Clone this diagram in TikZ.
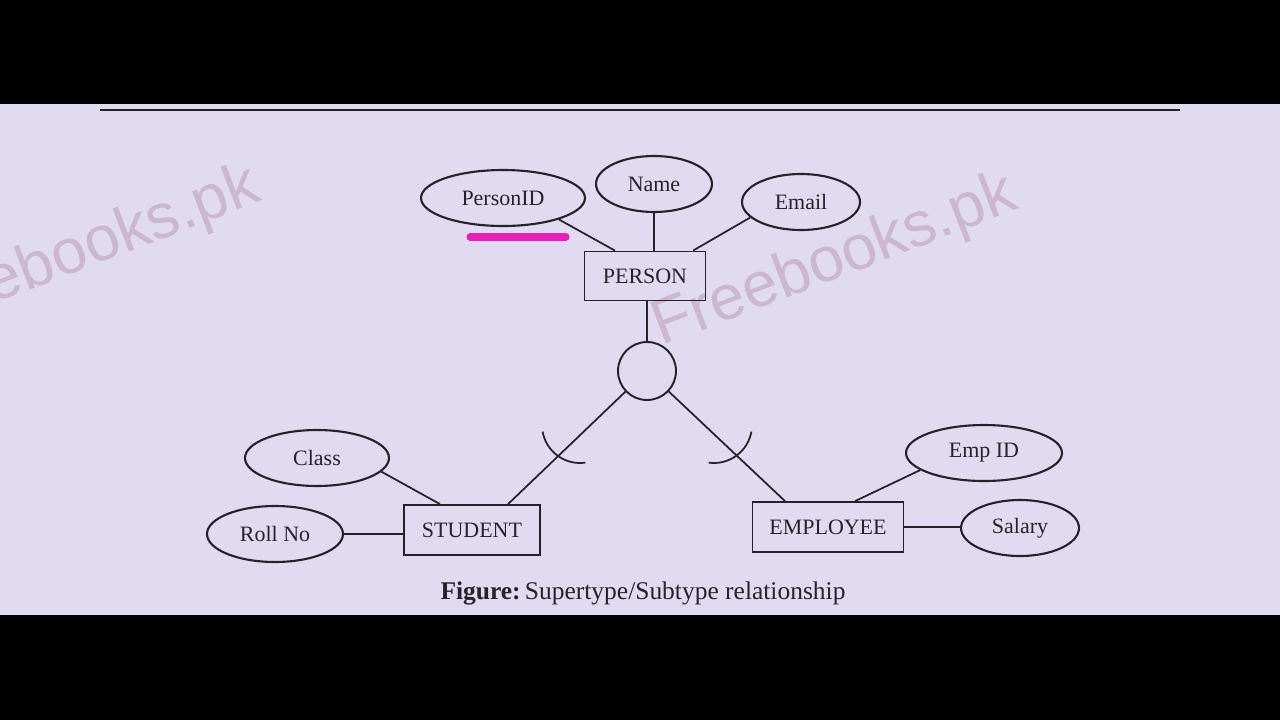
\documentclass[tikz,border=0pt]{standalone}
\usepackage{fontspec}
\setmainfont{Liberation Serif}
\newfontfamily\markfont{Liberation Sans}
\usetikzlibrary{shapes.geometric}
\definecolor{paper}{RGB}{224,219,240}
\definecolor{ink}{RGB}{38,34,42}
\definecolor{hilite}{RGB}{235,30,185}
\definecolor{wmark}{RGB}{203,184,206}
\begin{document}
\begin{tikzpicture}[
        x=0.02cm, y=-0.02cm,
        every node/.style={text=ink, font=\fontsize{12.5}{14}\selectfont},
        attr/.style={draw=ink, ellipse, line width=1.2pt, inner sep=0pt, minimum height=1.12cm},
        entity/.style={draw=ink, rectangle, line width=1pt, inner sep=0pt, minimum height=0.98cm},
        isa/.style={draw=ink, circle, line width=1.1pt, inner sep=0pt, minimum size=1.16cm},
        link/.style={draw=ink, line width=1pt},
        wm/.style={text=wmark, font=\markfont\fontsize{36}{40}\selectfont, rotate=21},
    ]
        % page and black bars
        \useasboundingbox (0,0) rectangle (1280,720);
        \fill[black] (0,0) rectangle (1280,720);
        \fill[paper] (0,104) rectangle (1280,615);
        \draw[ink, line width=1.2pt] (100,110) -- (1180,110);

        % watermarks
        \begin{scope}
            \clip (0,104) rectangle (1280,615);
            \node[wm, anchor=base west] (wm2) at (-12,306) {ebooks.pk};
        \end{scope}
        \node[wm] (wm1) at (835,262) {Freebooks.pk};

        % Supertype and its attributes
        \node[entity, minimum width=2.42cm] (person) at (645,276) {PERSON};
        \node[attr, minimum width=3.28cm] (personid) at (503,198) {PersonID};
        \node[attr, minimum width=2.32cm] (name) at (654,184) {Name};
        \node[attr, minimum width=2.36cm] (email) at (801,202) {Email};

        % highlighter stroke under the key
        \draw[hilite, line width=4pt, line cap=round] (470,237) -- (566,237);

        % Subtype circle
        \node[isa] (isa) at (647,371) {};

        % Subtypes and their attributes
        \node[entity, minimum width=2.72cm, minimum height=1cm] (student) at (472,530) {STUDENT};
        \node[entity, minimum width=3.02cm, minimum height=1cm] (employee) at (828,527) {EMPLOYEE};
        \node[attr, minimum width=2.88cm] (class) at (317,458) {Class};
        \node[attr, minimum width=2.72cm] (rollno) at (275,534) {Roll No};
        \node[attr, minimum width=3.12cm] (empid) at (984,453) {Emp ID};
        \node[attr, minimum width=2.36cm] (salary) at (1020,528) {Salary};

        % Edges
        \draw[link] (personid.-21) -- ([xshift=-0.6cm]person.north);
        \draw[link] (name) -- (name |- person.north);
        \draw[link] (email.197) -- ([xshift=0.96cm]person.north);
        \draw[link] (isa |- person.south) -- (isa);
        \draw[link] (isa) -- ([xshift=0.72cm]student.north);
        \draw[link] (isa) -- ([xshift=-0.86cm]employee.north);
        \draw[link] (class.-12) -- ([xshift=-0.64cm]student.north);
        \draw[link] (rollno) -- (rollno -| student.west);
        \draw[link] (empid.195) -- ([xshift=0.54cm]employee.north);
        \draw[link] (employee) -- (employee -| salary.west);

        % subset marks on the subtype lines
        \draw[link] (542.6,431.6) arc[start angle=190, end angle=278, radius=0.76cm];
        \draw[link] (751.4,431.6) arc[start angle=-10, end angle=-98, radius=0.76cm];

        % Caption
        \node[font=\fontsize{14.5}{17}\selectfont] (caption) at (643,593) {\textbf{Figure:}\,Supertype/Subtype relationship};
    \end{tikzpicture}
\end{document}
